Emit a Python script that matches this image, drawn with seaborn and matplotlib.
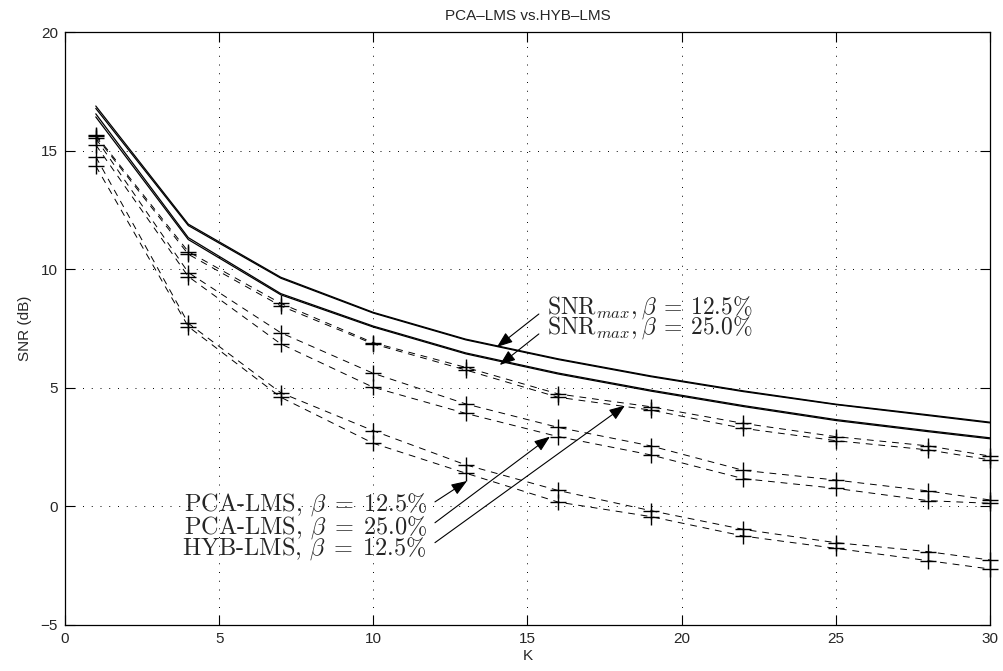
import matplotlib
matplotlib.use("Agg")
import matplotlib.pyplot as plt
import seaborn as sns

# Frame sizes K at which the SNR was evaluated
K = [1, 4, 7, 10, 13, 16, 19, 22, 25, 28, 30]

# Upper bounds (solid lines)
snr_max_125_a = [16.88, 11.90, 9.66, 8.18, 7.05, 6.22, 5.50, 4.87, 4.31, 3.86, 3.55]
snr_max_125_b = [16.78, 11.84, 9.62, 8.15, 7.02, 6.19, 5.47, 4.84, 4.29, 3.83, 3.52]
snr_max_250_a = [16.55, 11.33, 8.97, 7.60, 6.47, 5.62, 4.90, 4.25, 3.66, 3.19, 2.89]
snr_max_250_b = [16.42, 11.25, 8.92, 7.56, 6.43, 5.58, 4.86, 4.21, 3.62, 3.15, 2.85]

# Adaptive filter results (dashed lines with + markers)
hyb_125_a = [15.66, 10.74, 8.56, 6.90, 5.86, 4.74, 4.20, 3.50, 2.94, 2.55, 2.12]
hyb_125_b = [15.60, 10.63, 8.45, 6.85, 5.75, 4.60, 4.06, 3.29, 2.77, 2.38, 1.96]
pca_250_a = [15.52, 9.86, 7.32, 5.61, 4.32, 3.33, 2.55, 1.52, 1.11, 0.65, 0.27]
pca_250_b = [15.24, 9.69, 6.85, 5.02, 3.92, 2.94, 2.17, 1.17, 0.76, 0.24, 0.13]
pca_125_a = [14.74, 7.72, 4.79, 3.19, 1.75, 0.67, -0.18, -0.97, -1.53, -1.91, -2.26]
pca_125_b = [14.35, 7.58, 4.60, 2.66, 1.40, 0.18, -0.43, -1.25, -1.77, -2.29, -2.64]

x_ticks = [0, 5, 10, 15, 20, 25, 30]
y_ticks = [-5, 0, 5, 10, 15, 20]

sns.set_style("ticks")
plt.rcParams["font.family"] = ["Liberation Sans", "DejaVu Sans"]
plt.rcParams["mathtext.fontset"] = "cm"

fig = plt.figure(figsize=(10.04, 6.71), dpi=100)
ax = fig.add_axes([0.0647, 0.0686, 0.9213, 0.8837])

for series in (snr_max_125_a, snr_max_125_b, snr_max_250_a, snr_max_250_b):
    sns.lineplot(x=K, y=series, ax=ax, color="k", lw=0.9,
                 estimator=None, sort=False, legend=False)

for series in (hyb_125_a, hyb_125_b, pca_250_a, pca_250_b, pca_125_a, pca_125_b):
    sns.lineplot(x=K, y=series, ax=ax, color="k", lw=0.7,
                 linestyle=(0, (7, 6)), marker="+", markersize=11,
                 markeredgewidth=1.0, markeredgecolor="k",
                 estimator=None, sort=False, legend=False, clip_on=False)

ax.set_xlim(0, 30)
ax.set_ylim(-5, 20)
ax.set_xticks(x_ticks)
ax.set_yticks(y_ticks)
ax.tick_params(direction="in", length=7, width=0.8, top=True, right=True,
               labelsize=11, pad=5, color="k")
for s in ax.spines.values():
    s.set_linewidth(0.9)
    s.set_color("k")
ax.grid(True, color="k", lw=0.7, linestyle=(0, (1, 8)))

ax.set_xlabel("K", fontsize=11, labelpad=2)
ax.set_ylabel("SNR (dB)", fontsize=11, labelpad=6)
ax.set_title("PCA\u2013LMS vs.HYB\u2013LMS", fontsize=11, pad=9)

arrow = dict(arrowstyle="-|>,head_length=0.8,head_width=0.3", color="k",
             lw=0.8, mutation_scale=12, shrinkA=0, shrinkB=0)

# Upper-bound labels
ax.text(15.63, 8.36, r"$\mathrm{SNR}_{max}, \beta \:=\: 12.5\%$", fontsize=17,
        ha="left", va="center")
ax.text(15.63, 7.52, r"$\mathrm{SNR}_{max}, \beta \:=\: 25.0\%$", fontsize=17,
        ha="left", va="center")
ax.annotate("", xy=(14.01, 6.72), xytext=(15.37, 8.11), arrowprops=arrow)
ax.annotate("", xy=(14.10, 5.96), xytext=(15.37, 7.27), arrowprops=arrow)

# Algorithm labels
labels = [("PCA-LMS, $\\beta \\;=\\; 12.5\\%$", 0.06, (13.04, 1.07), 0.19),
          ("PCA-LMS, $\\beta \\;=\\; 25.0\\%$", -0.91, (15.73, 2.94), -0.69),
          ("HYB-LMS, $\\beta \\;=\\; 12.5\\%$", -1.80, (18.16, 4.25), -1.53)]
for txt, ty, tip, tail_y in labels:
    ax.text(11.74, ty, txt, fontsize=17.5, family="cmr10", ha="right", va="center")
    ax.annotate("", xy=tip, xytext=(12.0, tail_y), arrowprops=arrow)

fig.savefig("out.png", dpi=100)
